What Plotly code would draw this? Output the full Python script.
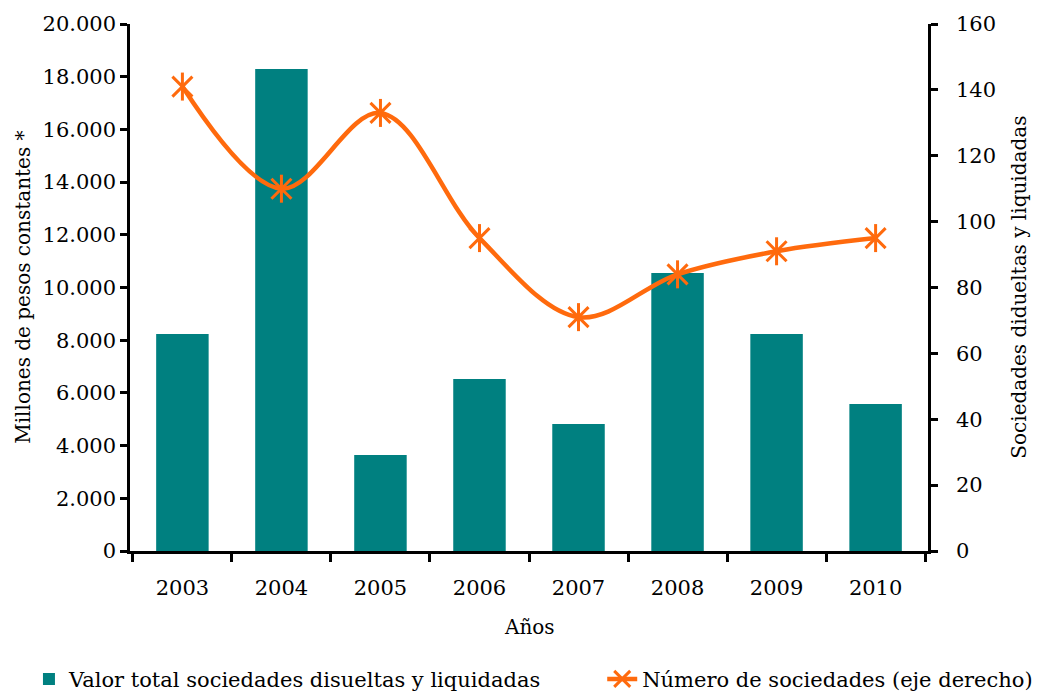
import plotly.graph_objects as go

years = ["2003", "2004", "2005", "2006", "2007", "2008", "2009", "2010"]
valor_total = [8240, 18290, 3640, 6530, 4820, 10550, 8240, 5580]
num_sociedades = [141, 110, 133, 95, 71, 84, 91, 95]

FONT = "DejaVu Serif"
TEAL = "#008080"
ORANGE = "#FF6A0D"

fig = go.Figure()

fig.add_trace(go.Bar(
    x=years, y=valor_total,
    name="Valor total sociedades disueltas y liquidadas",
    marker=dict(color=TEAL, line=dict(width=0)),
    width=0.53, legend="legend",
))

fig.add_trace(go.Scatter(
    x=years, y=num_sociedades, yaxis="y2",
    name="Número de sociedades (eje derecho)",
    mode="lines+markers",
    line=dict(color=ORANGE, width=4.5, shape="spline", smoothing=1.0),
    marker=dict(symbol="x-thin-open", size=20, color=ORANGE,
                line=dict(color=ORANGE, width=3)),
    legend="legend2",
))
# vertical bar of the asterisk markers
fig.add_trace(go.Scatter(
    x=years, y=num_sociedades, yaxis="y2", mode="markers",
    marker=dict(symbol="line-ns-open", size=20, color=ORANGE,
                line=dict(color=ORANGE, width=3)),
    showlegend=False, hoverinfo="skip",
))

axis_line = dict(showline=True, linecolor="black", linewidth=2.5,
                 tickwidth=2.5, tickcolor="black", showgrid=False)

fig.update_layout(
    width=1048, height=692,
    paper_bgcolor="white", plot_bgcolor="white",
    font=dict(family=FONT, size=21, color="black"),
    separators=",.",
    margin=dict(l=122, r=128, t=16, b=149, autoexpand=False),
    xaxis=dict(
        type="category", tickangle=0,
        ticks="outside", tickson="boundaries", ticklen=8,
        ticklabelstandoff=16, **axis_line,
    ),
    yaxis=dict(
        range=[0, 20000], dtick=2000, tickformat=",d",
        ticks="outside", ticklen=7, zeroline=False, **axis_line,
    ),
    yaxis2=dict(
        range=[0, 160], dtick=20, overlaying="y", side="right",
        ticks="outside", ticklen=7, ticklabelstandoff=14,
        zeroline=False, **axis_line,
    ),
    annotations=[
        dict(text="Años", xref="paper", yref="paper", x=0.5, y=-0.145,
             showarrow=False, font=dict(size=20), yanchor="middle"),
        dict(text="Millones de pesos constantes *", xref="paper", yref="paper",
             x=-0.135, y=0.5, textangle=-90, showarrow=False,
             font=dict(size=20), xanchor="center"),
        dict(text="Sociedades didueltas y liquidadas", xref="paper", yref="paper",
             x=1.113, y=0.5, textangle=-90, showarrow=False,
             font=dict(size=20), xanchor="center"),
    ],
    legend=dict(
        orientation="h", x=0.02, xanchor="left", xref="container",
        y=0.03, yanchor="middle", yref="container",
        font=dict(size=21), itemwidth=30, bgcolor="rgba(0,0,0,0)",
    ),
    legend2=dict(
        orientation="h", x=0.567, xanchor="left", xref="container",
        y=0.03, yanchor="middle", yref="container",
        font=dict(size=21), itemwidth=30, bgcolor="rgba(0,0,0,0)",
    ),
    bargap=0.47,
)

fig.write_html("out.html")
